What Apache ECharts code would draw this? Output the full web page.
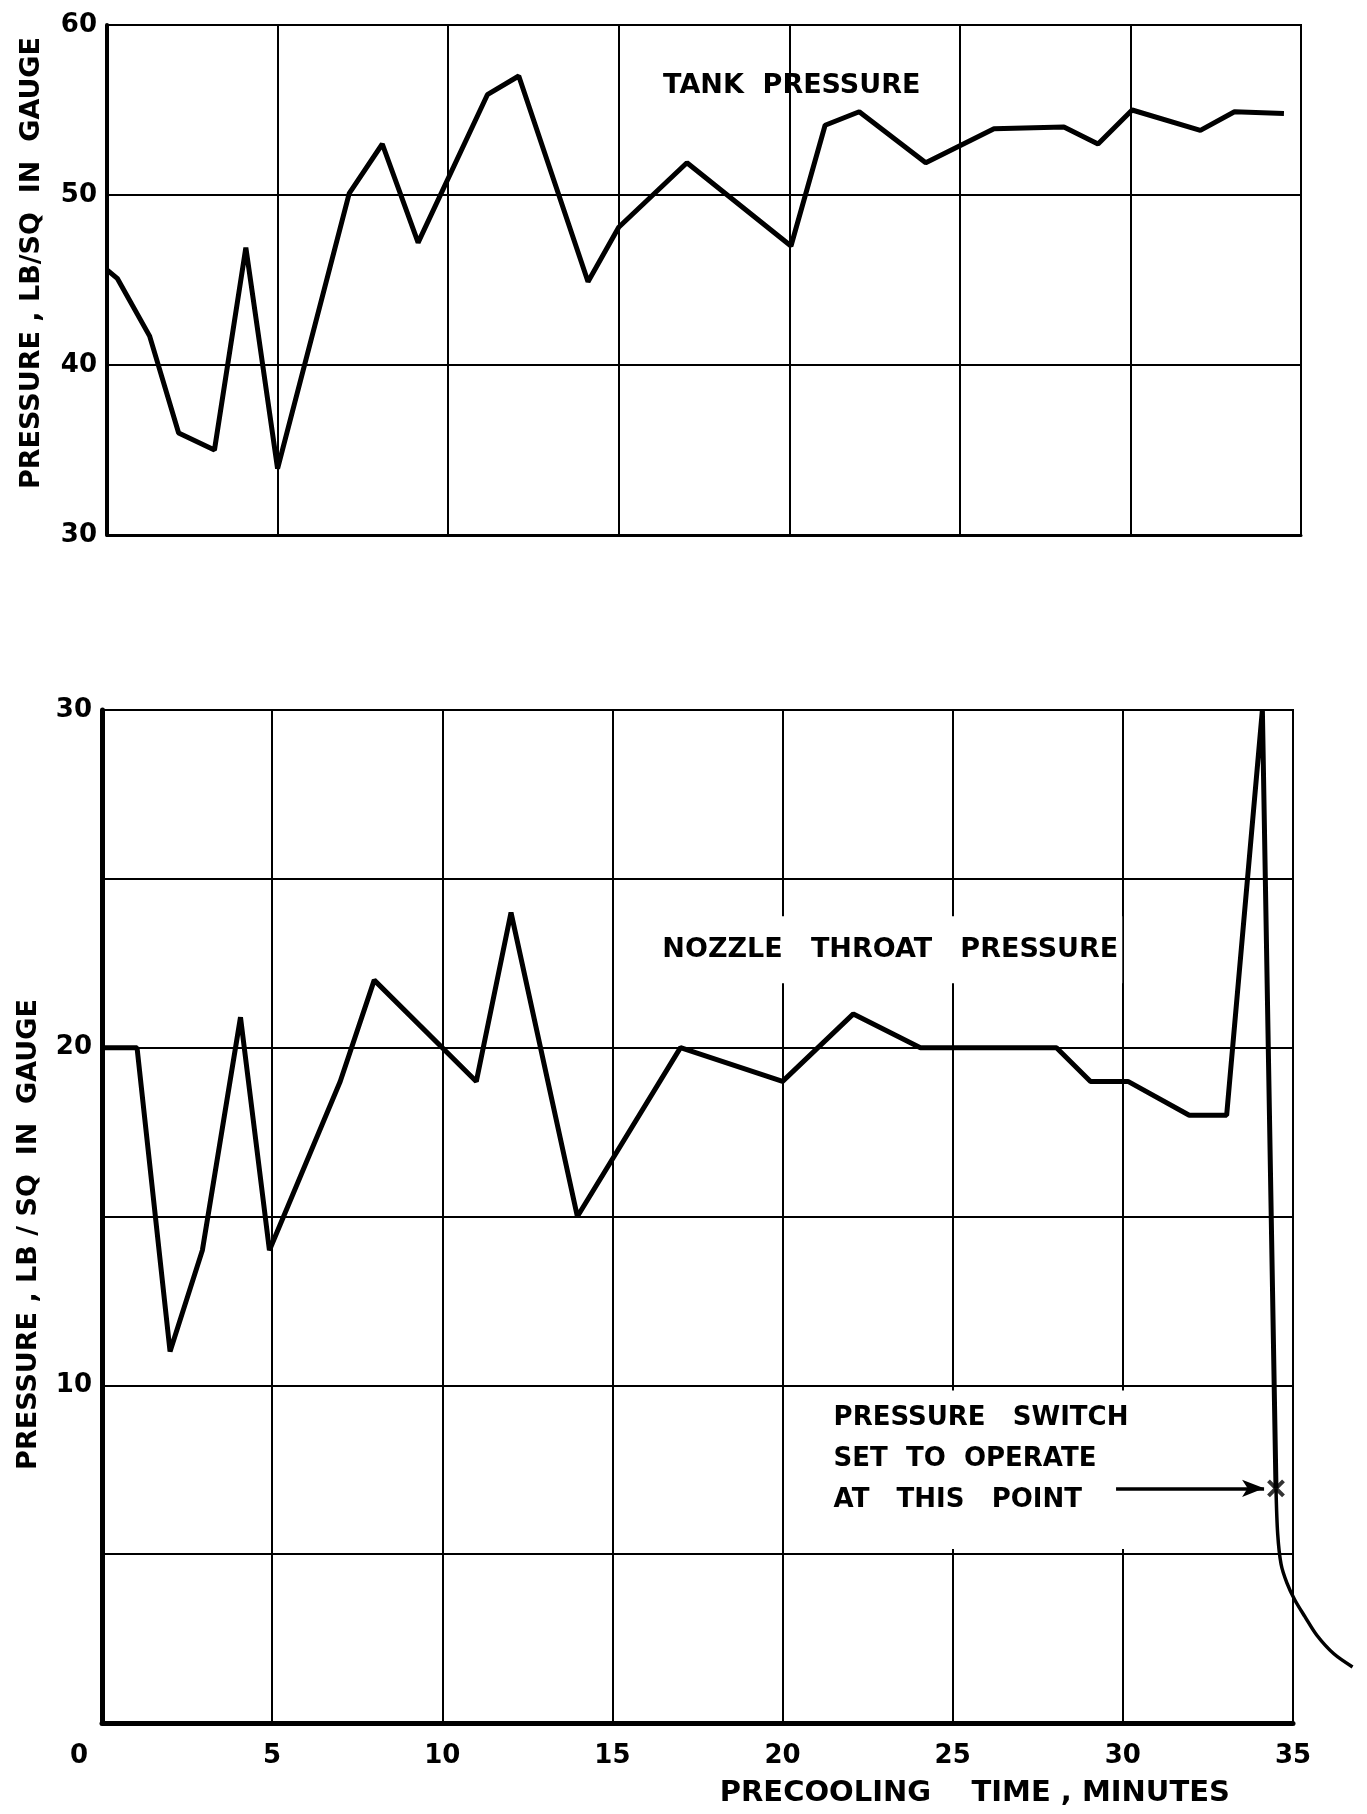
<!doctype html>
<html>
<head>
<meta charset="utf-8">
<title>Tank and nozzle throat pressure during precooling</title>
<script src="https://cdn.jsdelivr.net/npm/echarts@6/dist/echarts.min.js"></script>
<style>
  html, body { margin: 0; padding: 0; background: #fff; }
  #chart { width: 1367px; height: 1814px; }
</style>
</head>
<body>
<div id="chart"></div>
<script>
// top panel: tank pressure
var tankTime     = [0, 0.3, 1.25, 2.1, 3.15, 4.07, 5.0, 7.1, 8.07, 9.12, 11.15, 12.07, 14.1, 15.0, 17.0, 20.05, 21.05, 22.05, 24.0, 26.0, 28.05, 29.05, 30.05, 32.05, 33.05, 34.5];
var tankPressure = [45.6, 45.1, 41.7, 36.0, 35.0, 46.9, 33.9, 50.1, 53.0, 47.2, 55.9, 57.0, 44.9, 48.1, 51.9, 47.0, 54.1, 54.9, 51.9, 53.9, 54.0, 53.0, 55.0, 53.8, 54.9, 54.8];

// bottom panel: nozzle throat pressure
var nozzleTime     = [0, 1.03, 2.0, 2.95, 4.07, 4.92, 7.0, 8.0, 11.0, 12.02, 13.97, 17.0, 20.0, 22.08, 24.05, 28.05, 29.05, 30.15, 31.95, 33.05, 34.1, 34.5];
var nozzlePressure = [20, 20, 11.0, 14.0, 20.9, 14.0, 19.0, 22.0, 19.0, 24.0, 15.0, 20.0, 19.0, 21.0, 20.0, 20.0, 19.0, 19.0, 18.0, 18.0, 30.0, 6.95];

// after the switch point the curve runs out past 35 min
var tailTime     = [34.5, 34.55, 34.65, 34.82, 35.05, 35.35, 35.7, 36.2, 36.75];
var tailPressure = [6.95, 5.6, 4.7, 4.15, 3.65, 3.15, 2.6, 2.05, 1.66];

var switchPoint = [34.5, 6.95];
var arrowStart  = [29.8, 6.95];
var arrowEnd    = [34.15, 6.95];

var timeTicks   = [0, 5, 10, 15, 20, 25, 30, 35];
var tankTicks   = [30, 40, 50, 60];
var nozzleTicks = [10, 20, 30];

var FONT = 'DejaVu Sans';

function pairs(xs, ys) {
    return xs.map(function (x, i) { return [x, ys[i]]; });
}

var myChart = echarts.init(document.getElementById('chart'));

// bottom panel geometry; the overlay grid shares it but runs the time axis to 37 min
var botLeft = 102, botTop = 710, botW = 1191, botH = 1013;

var option = {
    animation: false,
    backgroundColor: '#fff',
    grid: [
        { left: 107, top: 25, width: 1194, height: 510, show: true, borderColor: '#000', borderWidth: 2 },
        { left: botLeft, top: botTop, width: botW, height: botH, show: true, borderColor: '#000', borderWidth: 2 },
        { left: botLeft, top: botTop, width: botW * 37 / 35, height: botH, show: false }
    ],
    xAxis: [
        {
            gridIndex: 0, type: 'value', min: 0, max: 35, interval: 5,
            axisLine: { lineStyle: { color: '#000', width: 3 } },
            axisTick: { show: false },
            axisLabel: { show: false },
            splitLine: { show: true, lineStyle: { color: '#000', width: 2 } }
        },
        {
            gridIndex: 1, type: 'value', min: 0, max: 35, interval: 5,
            axisLine: { lineStyle: { color: '#000', width: 5 } },
            axisTick: { show: false },
            axisLabel: {
                margin: 20, color: '#000', fontFamily: FONT, fontWeight: 'bold', fontSize: 26,
                formatter: function (v) {
                    if (timeTicks.indexOf(v) < 0) return '';
                    return v === 0 ? '{z|0}' : String(v);
                },
                rich: { z: { padding: [0, 46, 0, 0], color: '#000', fontFamily: FONT, fontWeight: 'bold', fontSize: 26 } }
            },
            splitLine: { show: true, lineStyle: { color: '#000', width: 2 } }
        },
        { gridIndex: 2, type: 'value', min: 0, max: 37, show: false }
    ],
    yAxis: [
        {
            gridIndex: 0, type: 'value', min: 30, max: 60, interval: 10,
            name: 'PRESSURE , LB/SQ  IN  GAUGE',
            nameLocation: 'middle', nameGap: 62, nameRotate: 90,
            nameTextStyle: { color: '#000', fontFamily: FONT, fontWeight: 'bold', fontSize: 27, padding: [0, 0, 0, 34] },
            axisLine: { show: true, lineStyle: { color: '#000', width: 4 } },
            axisTick: { show: false },
            axisLabel: {
                margin: 10, color: '#000', fontFamily: FONT, fontWeight: 'bold', fontSize: 26,
                formatter: function (v) { return tankTicks.indexOf(v) >= 0 ? String(v) : ''; }
            },
            splitLine: { show: true, lineStyle: { color: '#000', width: 2 } }
        },
        {
            gridIndex: 1, type: 'value', min: 0, max: 30, interval: 5,
            name: 'PRESSURE , LB / SQ  IN  GAUGE',
            nameLocation: 'middle', nameGap: 60, nameRotate: 90,
            nameTextStyle: { color: '#000', fontFamily: FONT, fontWeight: 'bold', fontSize: 27, padding: [0, 36, 0, 0] },
            axisLine: { show: true, lineStyle: { color: '#000', width: 5 } },
            axisTick: { show: false },
            axisLabel: {
                margin: 10, color: '#000', fontFamily: FONT, fontWeight: 'bold', fontSize: 26,
                formatter: function (v) { return nozzleTicks.indexOf(v) >= 0 ? String(v) : ''; }
            },
            splitLine: { show: true, lineStyle: { color: '#000', width: 2 } }
        },
        { gridIndex: 2, type: 'value', min: 0, max: 30, show: false }
    ],
    series: [
        {
            name: 'Tank pressure', type: 'line', xAxisIndex: 0, yAxisIndex: 0,
            data: pairs(tankTime, tankPressure),
            symbol: 'none', z: 5,
            lineStyle: { color: '#000', width: 5 }
        },
        {
            name: 'Nozzle throat pressure', type: 'line', xAxisIndex: 1, yAxisIndex: 1,
            data: pairs(nozzleTime, nozzlePressure),
            symbol: 'none', z: 5,
            lineStyle: { color: '#000', width: 5 }
        },
        {
            name: 'Nozzle tail', type: 'line', xAxisIndex: 2, yAxisIndex: 2,
            data: pairs(tailTime, tailPressure),
            symbol: 'none', smooth: 0.3, z: 5,
            lineStyle: { color: '#000', width: 3.5 }
        },
        {
            name: 'Switch point', type: 'scatter', xAxisIndex: 1, yAxisIndex: 1,
            data: [switchPoint],
            symbol: 'path://M0,0L10,10M10,0L0,10', symbolSize: 15, z: 6,
            itemStyle: { color: 'none', borderColor: '#000', borderWidth: 4 },
            markLine: {
                silent: true,
                symbol: ['none', 'arrow'],
                symbolSize: [13, 22],
                label: { show: false },
                lineStyle: { color: '#000', width: 3.5, type: 'solid' },
                data: [[{ coord: arrowStart }, { coord: arrowEnd }]]
            }
        }
    ]
};

myChart.setOption(option);

// annotations placed through the axes
function px(grid, p) {
    return myChart.convertToPixel({ gridIndex: grid }, p);
}
var txt = { fill: '#000', fontFamily: FONT, fontWeight: 'bold' };

var tankPos = px(0, [16.3, 56.4]);
var nozzlePos = px(1, [16.35, 22.9]);
var boxA = px(1, [20.3, 9.85]);
var boxB = px(1, [34.3, 5.15]);
var notePos = px(1, [21.5, 7.82]);
var xNamePos = px(1, [25.65, 0]);

myChart.setOption({
    graphic: [
        { type: 'text', z: 1, x: tankPos[0], y: tankPos[1],
          style: Object.assign({ text: 'TANK  PRESSURE', fontSize: 27, verticalAlign: 'middle' }, txt) },
        { type: 'text', z: 1, x: nozzlePos[0], y: nozzlePos[1],
          style: Object.assign({ text: 'NOZZLE   THROAT   PRESSURE', fontSize: 27, verticalAlign: 'middle',
                                 backgroundColor: '#fff', padding: [20, 4, 20, 4] }, txt) },
        { type: 'rect', z: 1, shape: { x: boxA[0], y: boxA[1], width: boxB[0] - boxA[0], height: boxB[1] - boxA[1] },
          style: { fill: '#fff' } },
        { type: 'text', z: 1, x: notePos[0], y: notePos[1],
          style: Object.assign({ text: 'PRESSURE   SWITCH\nSET  TO  OPERATE\nAT   THIS   POINT', fontSize: 26,
                                 lineHeight: 41, verticalAlign: 'middle' }, txt) },
        { type: 'text', z: 1, x: xNamePos[0], y: xNamePos[1] + 70,
          style: Object.assign({ text: 'PRECOOLING    TIME , MINUTES', fontSize: 29, align: 'center', verticalAlign: 'middle' }, txt) }
    ]
});
</script>
</body>
</html>
